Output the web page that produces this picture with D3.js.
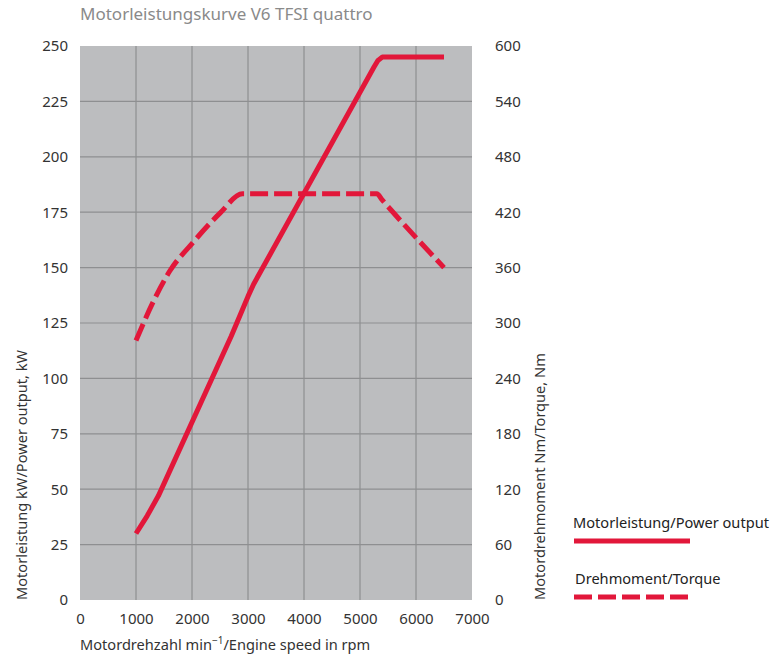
<!DOCTYPE html>
<html>
<head>
<meta charset="utf-8">
<script src="https://cdn.jsdelivr.net/npm/d3@7"></script>
<style>
  body { margin: 0; background: #fff; }
  text { font-family: "Noto Sans", "Open Sans", sans-serif; }
</style>
</head>
<body>
<div id="chart"></div>
<script>
// chart data
var rpmTicks = [0, 1000, 2000, 3000, 4000, 5000, 6000, 7000];
var powerTicks = [0, 25, 50, 75, 100, 125, 150, 175, 200, 225, 250];
var torqueTicks = [0, 60, 120, 180, 240, 300, 360, 420, 480, 540, 600];

var powerRpm = [1000, 1200, 1400, 1500, 2700, 2800, 2900, 3000, 3100, 5250, 5320, 5400, 6500];
var powerKw  = [30, 38, 47, 52.5, 119, 125, 131, 137, 142.5, 240.5, 243.5, 245, 245];

var torqueRpm = [1000, 1300, 1600, 2000, 2500, 2900, 5300, 5400, 6500];
var torqueNm  = [281, 322, 356, 386, 419, 440, 440, 433, 360];

var w = 776, h = 657;
var margin = { top: 46, right: 304, bottom: 57, left: 80 };
var width = w - margin.left - margin.right;   // 392
var height = h - margin.top - margin.bottom;  // 554

var red = "#e2173a";
var fs = 14.6;

var svg = d3.select("#chart").append("svg")
  .attr("width", w)
  .attr("height", h);

var g = svg.append("g")
  .attr("transform", "translate(" + margin.left + "," + margin.top + ")");

var x = d3.scaleLinear().domain([0, 7000]).range([0, width]);
var yP = d3.scaleLinear().domain([0, 250]).range([height, 0]);
var yT = d3.scaleLinear().domain([0, 600]).range([height, 0]);

// background
g.append("rect")
  .attr("width", width)
  .attr("height", height)
  .attr("fill", "#bcbdbf");

// grid lines
g.selectAll(".vgrid")
  .data(rpmTicks.slice(1, -1))
  .enter().append("line")
  .attr("x1", function(d) { return x(d); })
  .attr("x2", function(d) { return x(d); })
  .attr("y1", 0)
  .attr("y2", height)
  .attr("stroke", "#8e8f91")
  .attr("stroke-width", 1.2);

g.selectAll(".hgrid")
  .data(powerTicks.slice(1, -1))
  .enter().append("line")
  .attr("x1", 0)
  .attr("x2", width)
  .attr("y1", function(d) { return yP(d); })
  .attr("y2", function(d) { return yP(d); })
  .attr("stroke", "#8e8f91")
  .attr("stroke-width", 1.2);

// axes (labels only)
var xAxis = g.append("g")
  .attr("transform", "translate(0," + height + ")")
  .call(d3.axisBottom(x).tickValues(rpmTicks).tickFormat(d3.format("d")).tickSize(0).tickPadding(13));
var leftAxis = g.append("g")
  .call(d3.axisLeft(yP).tickValues(powerTicks).tickSize(0).tickPadding(12));
var rightAxis = g.append("g")
  .attr("transform", "translate(" + width + ",0)")
  .call(d3.axisRight(yT).tickValues(torqueTicks).tickSize(0).tickPadding(23));

[xAxis, leftAxis, rightAxis].forEach(function(a) {
  a.select(".domain").remove();
  a.selectAll("text")
    .attr("font-family", "Noto Sans, Open Sans, sans-serif")
    .attr("font-size", 15)
    .attr("fill", "#333");
});

// curves
var powerData = powerRpm.map(function(r, i) { return [r, powerKw[i]]; });
var torqueData = torqueRpm.map(function(r, i) { return [r, torqueNm[i]]; });

g.append("path")
  .datum(powerData)
  .attr("fill", "none")
  .attr("stroke", red)
  .attr("stroke-width", 5)
  .attr("stroke-linejoin", "round")
  .attr("d", d3.line()
    .x(function(d) { return x(d[0]); })
    .y(function(d) { return yP(d[1]); })
    .curve(d3.curveLinear));

g.append("path")
  .datum(torqueData)
  .attr("fill", "none")
  .attr("stroke", red)
  .attr("stroke-width", 5)
  .attr("stroke-dasharray", "18,6")
  .attr("stroke-linejoin", "round")
  .attr("d", d3.line()
    .x(function(d) { return x(d[0]); })
    .y(function(d) { return yT(d[1]); })
    .curve(d3.curveMonotoneX));

// title
svg.append("text")
  .attr("x", 80)
  .attr("y", 20)
  .attr("font-size", 17)
  .attr("fill", "#8a8a8a")
  .text("Motorleistungskurve V6 TFSI quattro");

// x axis label
var xl = svg.append("text")
  .attr("x", 80)
  .attr("y", 650)
  .attr("font-size", fs)
  .attr("fill", "#333");
xl.append("tspan").text("Motordrehzahl min");
xl.append("tspan").attr("dy", -6).attr("font-size", 10).text("−1");
xl.append("tspan").attr("dy", 6).text("/Engine speed in rpm");

// y axis labels
svg.append("text")
  .attr("transform", "translate(27,600) rotate(-90)")
  .attr("font-size", fs)
  .attr("fill", "#333")
  .text("Motorleistung kW/Power output, kW");

svg.append("text")
  .attr("transform", "translate(545,600) rotate(-90)")
  .attr("font-size", fs)
  .attr("fill", "#333")
  .text("Motordrehmoment Nm/Torque, Nm");

// legend
svg.append("text")
  .attr("x", 573)
  .attr("y", 528)
  .attr("font-size", fs)
  .attr("fill", "#222")
  .text("Motorleistung/Power output");
svg.append("line")
  .attr("x1", 574).attr("x2", 690)
  .attr("y1", 541).attr("y2", 541)
  .attr("stroke", red)
  .attr("stroke-width", 5);

svg.append("text")
  .attr("x", 575)
  .attr("y", 584)
  .attr("font-size", fs)
  .attr("fill", "#222")
  .text("Drehmoment/Torque");
svg.append("line")
  .attr("x1", 574).attr("x2", 690)
  .attr("y1", 597).attr("y2", 597)
  .attr("stroke", red)
  .attr("stroke-width", 5)
  .attr("stroke-dasharray", "18,6");
</script>
</body>
</html>
